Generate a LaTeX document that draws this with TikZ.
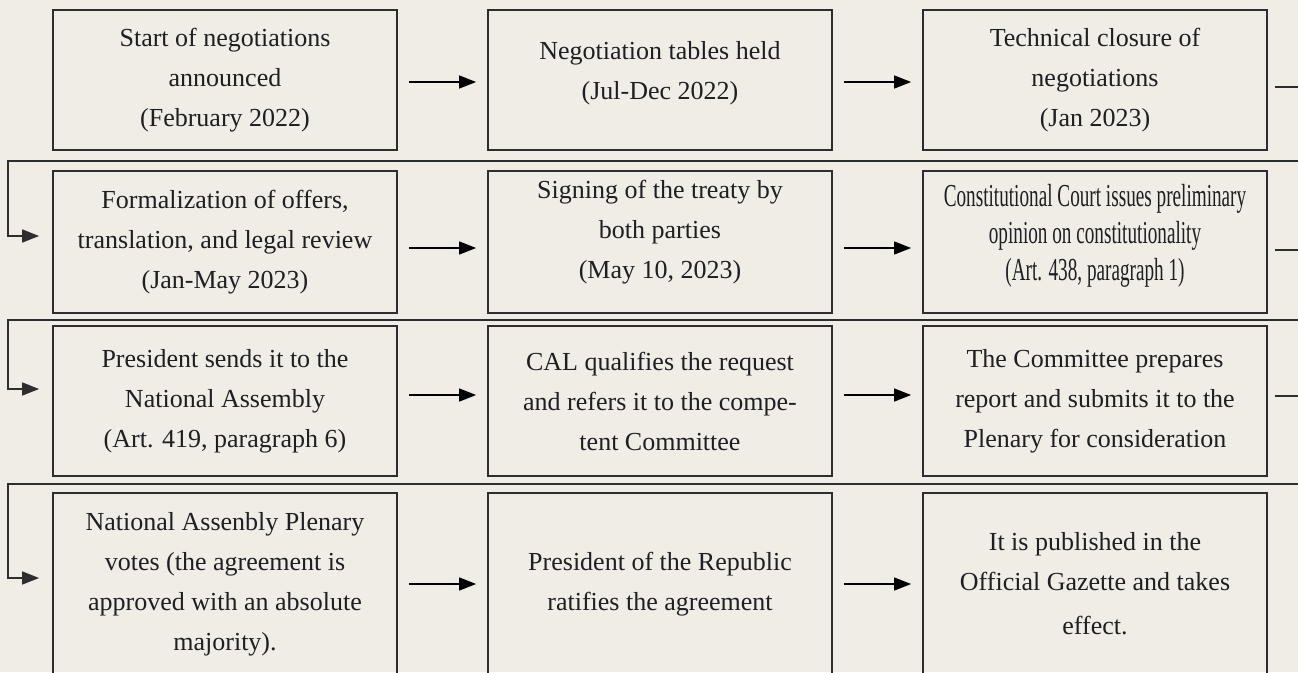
\documentclass[tikz,border=0pt]{standalone}
\usepackage{fontspec}
\usepackage{graphicx}
\setmainfont{Liberation Serif}
\usetikzlibrary{arrows.meta}
\definecolor{bg}{HTML}{F0EDE7}
\definecolor{edge}{HTML}{2E2E2E}
\begin{document}
\begin{tikzpicture}[x=1pt,y=-1pt,
  stepbox/.style={draw=edge, line width=1.8pt, minimum width=344pt, align=center,
    inner sep=0pt, font=\fontsize{26pt}{40pt}\selectfont, text=black!88},
  arr/.style={line width=1.4pt, draw=black, -{Triangle[length=17pt,width=13pt]}},
  ret/.style={line width=1.6pt, draw=edge, -{Triangle[length=17pt,width=13pt]}}]
\useasboundingbox (0,0) rectangle (1298,672);
\fill[bg] (0,0) rectangle (1298,672);
\clip (0,0) rectangle (1298,672);

% Row 1
\node[stepbox, minimum height=140pt] (n11) at (225,80) {Start of negotiations\\announced\\(February 2022)};
\node[stepbox, minimum height=140pt] (n12) at (660,80) {Negotiation tables held\\(Jul-Dec 2022)\\[-20pt]};
\node[stepbox, minimum height=140pt] (n13) at (1095,80) {Technical closure of\\negotiations\\(Jan 2023)};
% Row 2
\node[stepbox, minimum height=142pt] (n21) at (225,242) {Formalization of offers,\\translation, and legal review\\(Jan-May 2023)};
\node[stepbox, minimum height=142pt] (n22) at (660,242) {Signing of the treaty by\\both parties\\(May 10, 2023)\\[-14pt]};
\node[stepbox, minimum height=142pt, font=\fontsize{32pt}{37pt}\selectfont] (n23) at (1095,242)
  {\scalebox{0.6}[1]{Constitutional Court issues preliminary}\\
   \scalebox{0.6}[1]{opinion on constitutionality}\\
   \scalebox{0.6}[1]{(Art. 438, paragraph 1)}\\[-18pt]};
% Row 3
\node[stepbox, minimum height=150pt] (n31) at (225,401) {President sends it to the\\National Assembly\\(Art. 419, paragraph 6)};
\node[stepbox, minimum height=150pt] (n32) at (660,401) {CAL qualifies the request\\and refers it to the compe-\\tent Committee};
\node[stepbox, minimum height=150pt] (n33) at (1095,401) {The Committee prepares\\report and submits it to the\\Plenary for consideration};
% Row 4
\node[stepbox, minimum height=182pt] (n41) at (225,584) {National Assenbly Plenary\\votes (the agreement is\\approved with an absolute\\majority).};
\node[stepbox, minimum height=182pt] (n42) at (660,584) {President of the Republic\\ratifies the agreement};
\node[stepbox, minimum height=182pt] (n43) at (1095,584) {It is published in the\\Official Gazette and takes\\[4pt]effect.};

% Arrows within rows
\draw[arr] ([xshift=11pt,yshift=-2pt]n11.east) -- ([xshift=-11pt,yshift=-2pt]n12.west);
\draw[arr] ([xshift=11pt,yshift=-2pt]n12.east) -- ([xshift=-11pt,yshift=-2pt]n13.west);
\draw[arr] ([xshift=11pt,yshift=-6pt]n21.east) -- ([xshift=-11pt,yshift=-6pt]n22.west);
\draw[arr] ([xshift=11pt,yshift=-6pt]n22.east) -- ([xshift=-11pt,yshift=-6pt]n23.west);
\draw[arr] ([xshift=11pt,yshift=6pt]n31.east) -- ([xshift=-11pt,yshift=6pt]n32.west);
\draw[arr] ([xshift=11pt,yshift=6pt]n32.east) -- ([xshift=-11pt,yshift=6pt]n33.west);
\draw[arr] ([xshift=11pt]n41.east) -- ([xshift=-11pt]n42.west);
\draw[arr] ([xshift=11pt]n42.east) -- ([xshift=-11pt]n43.west);

% Return connectors
\coordinate (t1) at (1330,161);
\coordinate (l1) at (8,161);
\coordinate (t2) at (1330,320);
\coordinate (l2) at (8,320);
\coordinate (t3) at (1330,484);
\coordinate (l3) at (8,484);
\draw[ret] ([xshift=7pt,yshift=-7pt]n13.east) -| (t1) -- (l1) |- ([xshift=-13pt,yshift=6pt]n21.west);
\draw[ret] ([xshift=7pt,yshift=-8pt]n23.east) -| (t2) -- (l2) |- ([xshift=-13pt,yshift=12pt]n31.west);
\draw[ret] ([xshift=7pt,yshift=5pt]n33.east) -| (t3) -- (l3) |- ([xshift=-13pt,yshift=6pt]n41.west);
\end{tikzpicture}
\end{document}
